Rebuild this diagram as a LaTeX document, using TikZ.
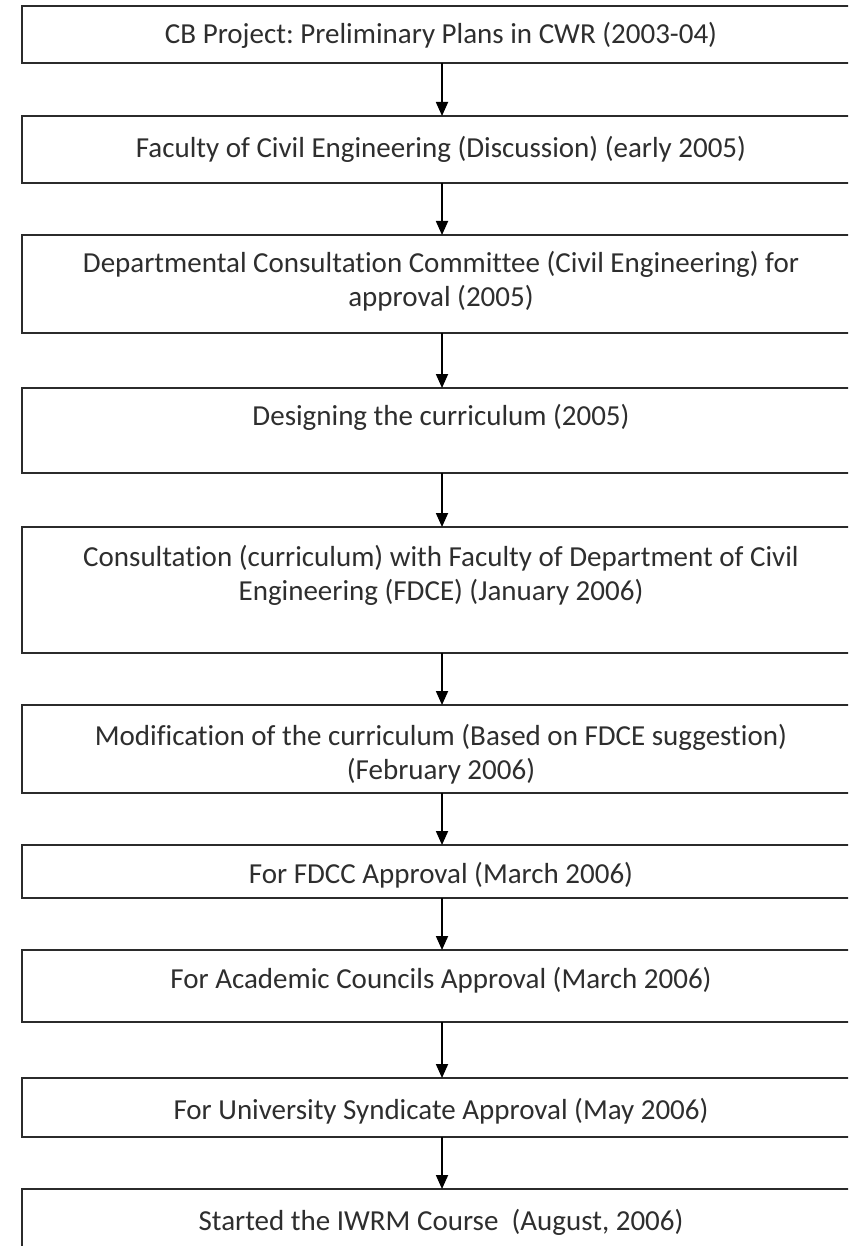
\documentclass[tikz,border=0pt]{standalone}
\usepackage{fontspec}
\setmainfont{Carlito}[Ligatures={NoCommon}]
\usetikzlibrary{arrows.meta}
\definecolor{linegray}{HTML}{2B2B2B}
\definecolor{textgray}{HTML}{2E2E2E}
\tikzset{
  box/.style={draw=linegray, line width=2.2pt, fill=white, minimum width=840pt, inner sep=0pt, outer sep=0pt},
  txt/.style={text=textgray, font=\fontsize{29}{34}\selectfont\frenchspacing, align=center, inner sep=0pt},
  arr/.style={draw=black, line width=1.8pt, -{Triangle[width=12pt,length=14pt]}}
}
\begin{document}
\begin{tikzpicture}[x=1pt,y=-1pt]
\clip (0,0) rectangle (848,1246);
\fill[white] (0,0) rectangle (848,1246);
\node[box, minimum height=57pt] (b1) at (442,34.5) {};
\node[box, minimum height=67pt] (b2) at (442,149.5) {};
\node[box, minimum height=98pt] (b3) at (442,284) {};
\node[box, minimum height=85pt] (b4) at (442,430.5) {};
\node[box, minimum height=126pt] (b5) at (442,590) {};
\node[box, minimum height=88pt] (b6) at (442,749) {};
\node[box, minimum height=53pt] (b7) at (442,871.5) {};
\node[box, minimum height=72pt] (b8) at (442,986) {};
\node[box, minimum height=59pt] (b9) at (442,1107.5) {};
\node[box, minimum height=90pt] (b10) at (442,1234) {};

\node[txt] (t1) at (441,35) {CB Project: Preliminary Plans in CWR (2003-04)};
\node[txt] (t2) at (441,149) {Faculty of Civil Engineering (Discussion) (early 2005)};
\node[txt] (t3) at (441,281.5) {Departmental Consultation Committee (Civil Engineering) for\\approval (2005)};
\node[txt] (t4) at (441,417) {Designing the curriculum (2005)};
\node[txt] (t5) at (441,575) {Consultation (curriculum) with Faculty of Department of Civil\\Engineering (FDCE) (January 2006)};
\node[txt] (t6) at (441,754.5) {Modification of the curriculum (Based on FDCE suggestion)\\(February 2006)};
\node[txt] (t7) at (441,875) {For FDCC Approval (March 2006)};
\node[txt] (t8) at (441,980) {For Academic Councils Approval (March 2006)};
\node[txt] (t9) at (441,1111) {For University Syndicate Approval (May 2006)};
\node[txt] (t10) at (441,1222) {Started the IWRM Course\ \ (August, 2006)};

\draw[arr] (b1.south) -- (b2.north);
\draw[arr] (b2.south) -- (b3.north);
\draw[arr] (b3.south) -- (b4.north);
\draw[arr] (b4.south) -- (b5.north);
\draw[arr] (b5.south) -- (b6.north);
\draw[arr] (b6.south) -- (b7.north);
\draw[arr] (b7.south) -- (b8.north);
\draw[arr] (b8.south) -- (b9.north);
\draw[arr] (b9.south) -- (b10.north);
\end{tikzpicture}
\end{document}
